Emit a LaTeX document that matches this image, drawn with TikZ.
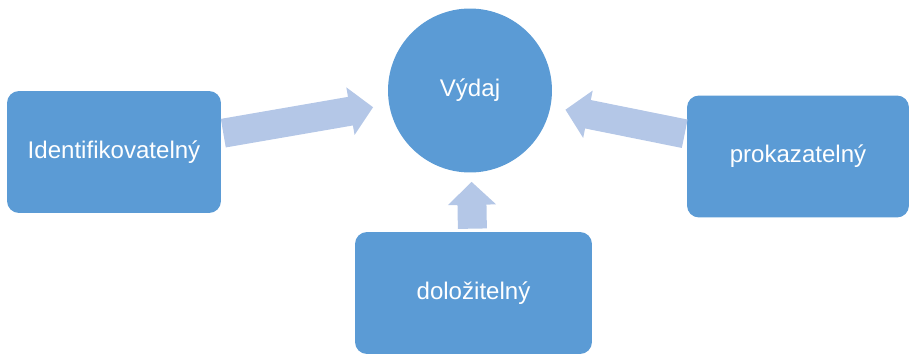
\documentclass[tikz,border=0pt]{standalone}
\usepackage{fontspec}
\setmainfont{Liberation Sans}
\usetikzlibrary{arrows.meta}
\definecolor{boxblue}{RGB}{91,155,213}
\definecolor{arrowblue}{RGB}{180,199,231}
\begin{document}
\begin{tikzpicture}[
    x=0.02cm, y=-0.02cm,
    box/.style={
        rectangle,
        rounded corners=2.4mm,
        minimum width=#1,
        minimum height=2.44cm,
        fill=boxblue,
        text=white,
        font=\fontsize{13.7}{16}\selectfont
    },
    hub/.style={
        circle,
        minimum size=3.28cm,
        fill=boxblue,
        text=white,
        font=\fontsize{13.7}{16}\selectfont
    },
    arrow/.style={-{Triangle[length=4.6mm, width=9.4mm]}, line width=5.8mm, arrowblue}
]
\useasboundingbox (0,0) rectangle (910,353);

\node[hub] (vydaj) at (470,90.5) {Výdaj};
\node[box=4.28cm] (ident) at (114,152) {Identifikovatelný};
\node[box=4.44cm] (prokaz) at (798,156.5) {prokazatelný};
\node[box=4.74cm] (dolo) at (473.5,293) {doložitelný};

\draw[arrow, shorten <=0.4mm, shorten >=3.2mm] (ident) -- (vydaj);
\draw[arrow, shorten <=0.4mm, shorten >=3mm] (prokaz) -- (vydaj);
\draw[arrow, shorten <=0.6mm, shorten >=1.8mm] (dolo) -- (vydaj);

\end{tikzpicture}
\end{document}
